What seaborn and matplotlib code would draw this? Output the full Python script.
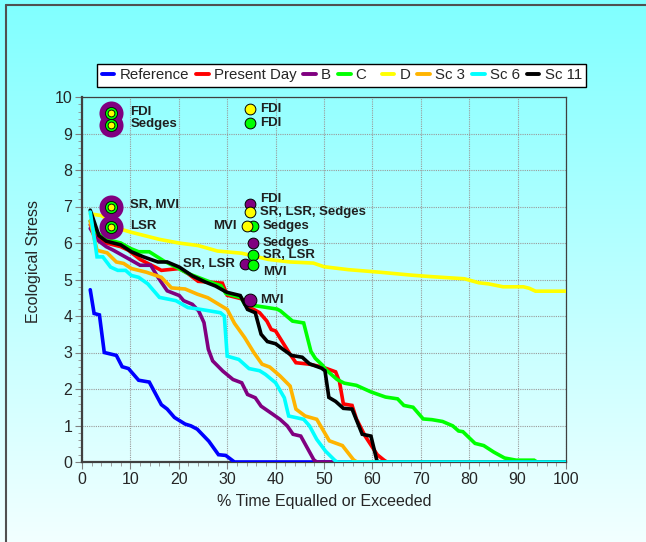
import matplotlib
matplotlib.use('Agg')
import matplotlib.pyplot as plt
from matplotlib.lines import Line2D
from matplotlib.ticker import MultipleLocator
import seaborn as sns
import pandas as pd
import numpy as np

# duration curves (% time equalled or exceeded vs ecological stress)
ref_x = [1.7, 2.5, 3.6, 4.6, 7.1, 8.3, 9.6, 11.7, 13.9, 16.4, 17.6, 19.1, 21.3, 22.5, 23.8, 26.2, 28.2, 29.7, 31.5, 100]
ref_y = [4.72, 4.07, 4.03, 3.0, 2.92, 2.61, 2.56, 2.24, 2.19, 1.57, 1.45, 1.22, 1.04, 0.99, 0.9, 0.57, 0.2, 0.18, 0, 0]

pd_x = [1.7, 3.5, 5, 8, 9.6, 12, 15.1, 16.4, 20.1, 21.9, 24, 29, 30, 33, 34.8, 36.7, 38.2, 39.1, 40, 41.5, 43, 44.2,
        47, 49.7, 52.4, 53.2, 54, 55.8, 56.7, 58.5, 61, 62.4, 63, 100]
pd_y = [6.5, 6.1, 6.0, 5.9, 5.8, 5.55, 5.34, 5.25, 5.3, 5.16, 4.95, 4.9, 4.57, 4.47, 4.23, 4.09, 3.86, 3.63, 3.59, 3.27,
        2.95, 2.72, 2.68, 2.6, 2.47, 2.2, 1.59, 1.55, 1.18, 0.71, 0.2, 0.05, 0, 0]

b_x = [1.7, 3, 5, 6.5, 9.6, 12, 14.2, 15.7, 17.6, 20.1, 21, 22.8, 24.1, 25.2, 26.1, 27, 29.1, 31.2, 33, 34.2, 35.8,
       37, 39.4, 40.9, 42.4, 43.6, 45.2, 47.9, 48.5, 100]
b_y = [6.4, 6.1, 5.9, 5.8, 5.57, 5.39, 5.39, 5.06, 4.69, 4.56, 4.42, 4.32, 4.14, 3.82, 3.09, 2.77, 2.49, 2.26, 2.17,
       1.85, 1.76, 1.53, 1.31, 1.17, 0.99, 0.76, 0.71, 0.06, 0, 0]

c_x = [1.7, 3, 5, 8, 10, 11.7, 13.9, 17, 19.4, 22, 27.5, 28.7, 29.7, 32.9, 33.6, 36.4, 40.3, 41, 43.5, 45.8, 47.3,
       48.2, 49.7, 50.3, 52.7, 54.2, 56.7, 59.7, 62.7, 65.2, 66.5, 68.4, 70.5, 72.3, 74.5, 76.6, 77.8, 78.7, 81.2,
       83, 85.1, 87.3, 89.7, 93.4, 94, 100]
c_y = [6.6, 6.3, 6.1, 6.0, 5.85, 5.76, 5.76, 5.5, 5.34, 5.16, 4.88, 4.83, 4.62, 4.5, 4.32, 4.27, 4.19, 4.14, 3.86,
       3.81, 3.03, 2.84, 2.65, 2.54, 2.26, 2.16, 2.1, 1.92, 1.78, 1.73, 1.55, 1.5, 1.18, 1.16, 1.11, 0.99, 0.85,
       0.83, 0.51, 0.45, 0.27, 0.11, 0.05, 0.05, 0, 0]

d_x = [1.7, 4, 6, 7.5, 10, 13, 16, 20, 24, 28, 33, 38.5, 43, 47.8, 50, 55, 61.5, 68, 72, 79, 82, 84, 87, 91.2,
       92.4, 93.7, 100]
d_y = [6.8, 6.75, 6.6, 6.4, 6.3, 6.2, 6.1, 6.0, 5.93, 5.78, 5.72, 5.55, 5.48, 5.45, 5.35, 5.27, 5.2, 5.12, 5.08,
       5.02, 4.91, 4.88, 4.8, 4.8, 4.76, 4.68, 4.68]

sc3_x = [1.7, 3.1, 5.2, 7.1, 8.6, 10.2, 13.3, 16.4, 18.5, 21.3, 23.8, 26, 28.5, 30, 31.5, 33.6, 35.5, 37.2, 38.8,
         40.9, 43, 44.2, 46.1, 48.5, 51.1, 53.8, 56.1, 56.8, 100]
sc3_y = [6.6, 5.8, 5.73, 5.48, 5.44, 5.3, 5.2, 5.06, 4.77, 4.74, 4.6, 4.5, 4.3, 4.18, 3.8, 3.41, 3.0, 2.68, 2.6,
         2.36, 2.08, 1.45, 1.26, 1.17, 0.58, 0.45, 0.06, 0, 0]

sc6_x = [1.7, 2.8, 3.1, 4.3, 5.9, 7.4, 9, 10.2, 11.7, 13.6, 16, 19.4, 21.9, 24.1, 28.6, 29.4, 30, 32.4, 34.5, 36.7,
         37.9, 40, 41.8, 42.7, 45.8, 47, 48.5, 50.3, 52.2, 52.7, 100]
sc6_y = [6.85, 5.9, 5.62, 5.62, 5.34, 5.25, 5.25, 5.11, 5.06, 4.88, 4.51, 4.42, 4.23, 4.19, 4.09, 4.0, 2.9, 2.81,
         2.56, 2.5, 2.4, 2.17, 1.76, 1.26, 1.17, 0.99, 0.62, 0.3, 0.05, 0, 0]

sc11_x = [1.7, 3.5, 5, 8, 10.2, 12.7, 15.7, 17.6, 20.1, 22.8, 25.5, 27.6, 29.9, 32.7, 34.2, 35.8, 37, 38.3, 40, 41.5,
          43.3, 45.5, 47, 49.5, 50.2, 51, 52.4, 54, 55.8, 57.9, 59.7, 60.9, 61.2, 100]
sc11_y = [6.9, 6.2, 6.05, 5.95, 5.76, 5.62, 5.48, 5.48, 5.34, 5.1, 4.93, 4.82, 4.65, 4.56, 4.18, 4.09, 3.5, 3.3,
          3.24, 3.09, 2.92, 2.87, 2.69, 2.57, 2.5, 1.77, 1.66, 1.47, 1.45, 0.76, 0.71, 0.05, 0, 0]

series_names = ['Reference', 'Present Day', 'B', 'C', 'D', 'Sc 3', 'Sc 6', 'Sc 11']
series_data = [(ref_x, ref_y), (pd_x, pd_y), (b_x, b_y), (c_x, c_y), (d_x, d_y),
               (sc3_x, sc3_y), (sc6_x, sc6_y), (sc11_x, sc11_y)]
colors = ['#0000FF', '#FF0000', '#800080', '#00FF00', '#FFFF00', '#FFB400', '#00FFFF', '#000000']

# single indicator points
pt_x = [34.8, 34.8, 34.8, 34.8, 35.3, 34.0, 35.3, 35.3, 33.6, 35.4, 34.8]
pt_y = [9.66, 9.28, 7.08, 6.85, 6.47, 6.47, 6.0, 5.67, 5.42, 5.39, 4.44]
pt_series = ['D', 'C', 'B', 'D', 'C', 'D', 'B', 'C', 'B', 'C', 'B']
pt_label = ['FDI', 'FDI', 'FDI', 'SR, LSR, Sedges', 'Sedges', 'MVI', 'Sedges', 'SR, LSR', 'SR, LSR', 'MVI', 'MVI']

# combined (B, C, D) indicator points
key_x = [6.0, 6.0, 6.0, 6.0]
key_y = [9.55, 9.22, 7.0, 6.43]
key_label = ['FDI', 'Sedges', 'SR, MVI', 'LSR']

rows = []
for name, (xs, ys) in zip(series_names, series_data):
    for xv, yv in zip(xs, ys):
        rows.append((name, xv, yv))
df = pd.DataFrame(rows, columns=['series', 'x', 'y'])

sns.set_style('white')
plt.rcParams['font.family'] = ['Liberation Sans', 'DejaVu Sans']

fig = plt.figure(figsize=(6.46, 5.42), dpi=100)

# gradient background
bg = fig.add_axes([0, 0, 1, 1], zorder=-10)
grad = np.linspace(0, 1, 256).reshape(-1, 1)
top = np.array([128, 255, 255]) / 255
bot = np.array([242, 255, 255]) / 255
img = top + (bot - top) * grad[:, :, None]
bg.imshow(img, aspect='auto', extent=[0, 1, 0, 1])
bg.set_axis_off()
fig.add_artist(Line2D([6 / 646, 1], [1 - 5 / 542, 1 - 5 / 542], color='#505050', lw=1.5))
fig.add_artist(Line2D([6 / 646, 6 / 646], [0, 1 - 5 / 542], color='#505050', lw=1.5))

ax = fig.add_axes([82 / 646, 1 - 462 / 542, 484 / 646, 365 / 542])
ax.set_facecolor('none')

sns.lineplot(data=df, x='x', y='y', hue='series', hue_order=series_names, palette=colors,
             estimator=None, sort=False, linewidth=2.6, ax=ax, legend=False)
lines = ax.get_lines()
for i, ln in enumerate(lines):
    ln.set_zorder(3 + i)
    ln.set_solid_joinstyle('miter')
lines[6].set_zorder(20)

col = dict(zip(series_names, colors))
ann_kw = dict(textcoords='offset points', va='center', fontsize=9.5, fontweight='bold', color='#202020', zorder=31)
for xv, yv, s, lab in zip(pt_x, pt_y, pt_series, pt_label):
    big = (lab == 'MVI' and s == 'B')
    ax.scatter(xv, yv, s=85 if big else 60, color=col[s], edgecolor='black', linewidth=0.7, zorder=30)
    if (lab == 'MVI' and s == 'D') or (lab == 'SR, LSR' and s == 'B'):
        ax.annotate(lab, (xv, yv), xytext=(-7, 0), ha='right', **ann_kw)
    else:
        dy = -5 if (lab == 'MVI' and s == 'C') else (3 if (lab == 'FDI' and s == 'B') else 0)
        ax.annotate(lab, (xv, yv), xytext=(7, dy), ha='left', **ann_kw)

for xv, yv in zip(key_x, key_y):
    ax.scatter(xv, yv, s=300, color='#800080', edgecolor='#800080', linewidth=0, zorder=32)
for xv, yv, lab in zip(key_x, key_y, key_label):
    ax.scatter(xv, yv, s=75, color='#00FF00', edgecolor='black', linewidth=0.6, zorder=33)
    ax.scatter(xv, yv, s=24, color='#FFFF00', edgecolor='black', linewidth=0.6, zorder=33)
    ax.annotate(lab, (xv, yv), xytext=(14, 1), ha='left', **ann_kw)

ax.set_xlim(0, 100)
ax.set_ylim(0, 10)
ax.xaxis.set_major_locator(MultipleLocator(10))
ax.xaxis.set_minor_locator(MultipleLocator(2))
ax.yaxis.set_major_locator(MultipleLocator(1))
ax.yaxis.set_minor_locator(MultipleLocator(0.2))
ax.grid(True, which='major', color='#9a9a9a', linestyle=(0, (1, 1)), linewidth=0.8)
ax.tick_params(which='major', direction='out', length=5, color='#808080', labelsize=11.5, pad=2,
               bottom=True, left=True)
ax.tick_params(which='minor', direction='out', length=3, color='#909090', bottom=True, left=True)
for side in ['left', 'bottom']:
    ax.spines[side].set_color('#404040')
    ax.spines[side].set_linewidth(1.6)
for side in ['top', 'right']:
    ax.spines[side].set_color('#404040')
    ax.spines[side].set_linewidth(0.9)
ax.set_xlabel('% Time Equalled or Exceeded', fontsize=11.5, labelpad=5)
ax.set_ylabel('Ecological Stress', fontsize=11.5)
ax.yaxis.set_label_coords(-0.085, 0.55)

handles = [Line2D([], [], color=c, lw=2.8) for c in colors]
labels = ['Reference', 'Present Day', 'B', 'C  ', 'D', 'Sc 3', 'Sc 6', 'Sc 11']
leg = fig.legend(handles, labels, loc='center', bbox_to_anchor=(0.529, 1 - 75 / 542), ncol=8,
                 fontsize=10.8, handlelength=0.85, handletextpad=0.35, columnspacing=0.45,
                 borderpad=0.3, fancybox=False, framealpha=1, edgecolor='black')
leg.get_frame().set_linewidth(1.0)

fig.savefig('out.png', dpi=100)
